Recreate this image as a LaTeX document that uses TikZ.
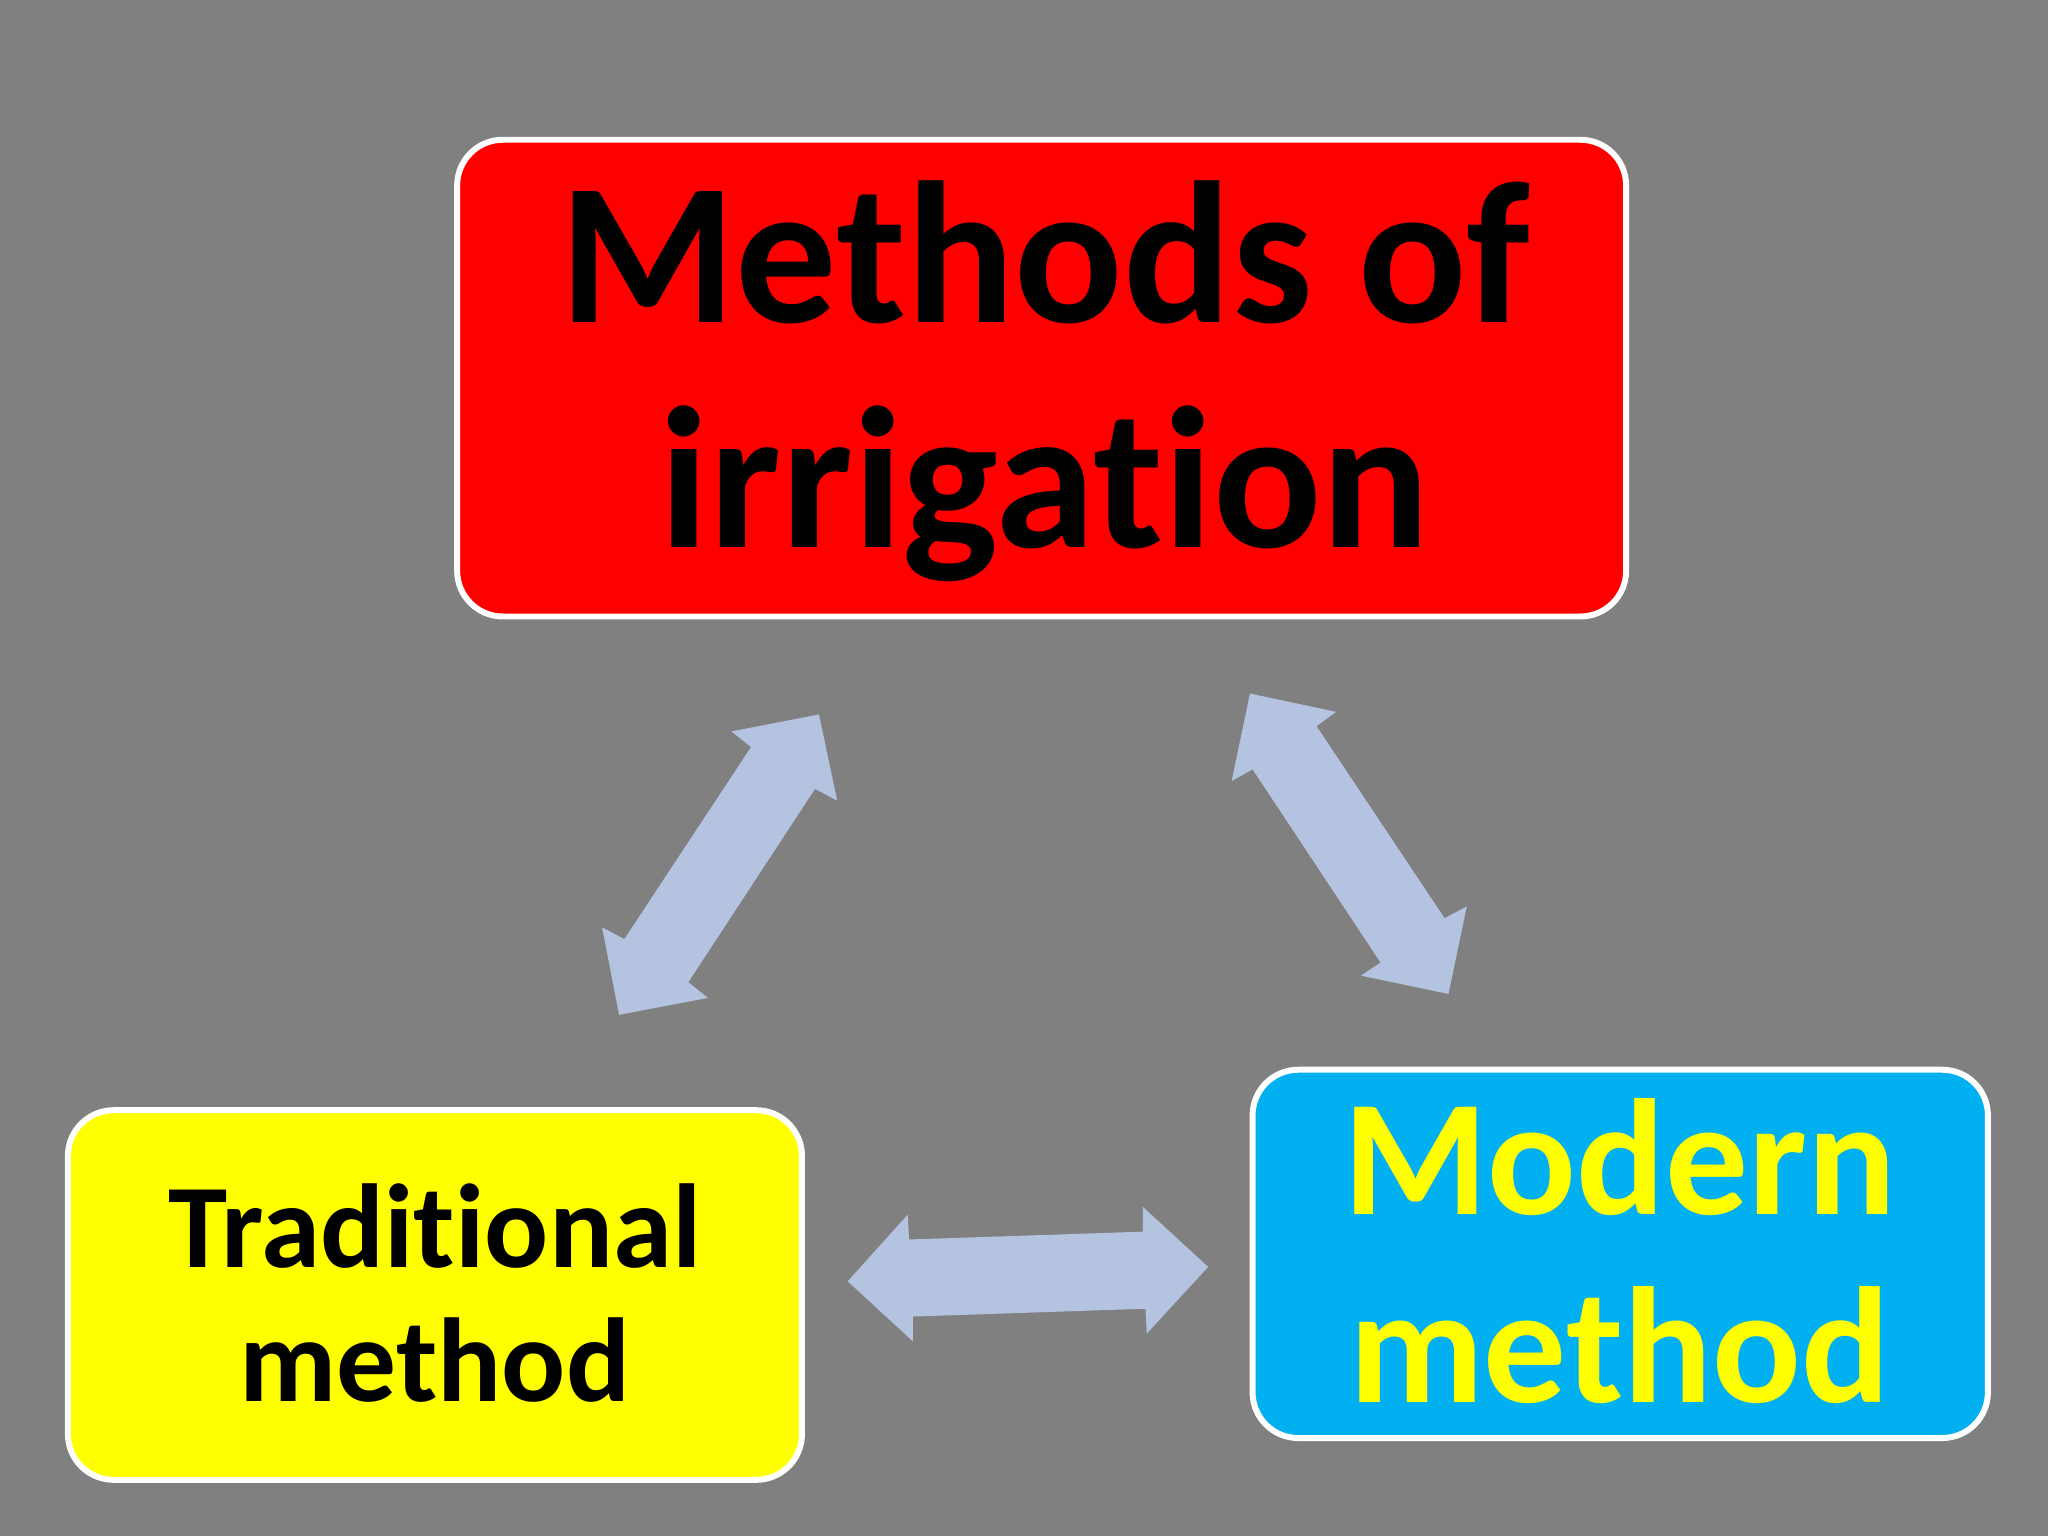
\documentclass[tikz,border=0pt]{standalone}
\usepackage{fontspec}
\setmainfont{Carlito}[Ligatures={NoCommon,NoRequired,NoContextual}]
\begin{document}
\begin{tikzpicture}[x=0.01cm,y=-0.01cm,
  box/.style={draw=white,line width=1.3pt,rounded corners=0.35cm},
  arr/.style={fill=arrowblue,draw=none}]
\definecolor{bg}{HTML}{808080}
\definecolor{arrowblue}{HTML}{B4C3DF}
\definecolor{cyanbox}{HTML}{00B0F0}
\definecolor{yel}{HTML}{FFFF00}
\fill[bg] (0,0) rectangle (1568,1176);
\useasboundingbox (0,0) rectangle (1568,1176);
\draw[box,fill=red] (350,107) rectangle (1245,472);
\draw[box,fill=yel] (52,850) rectangle (614,1133);
\draw[box,fill=cyanbox] (959,819) rectangle (1522,1101);
\node[font=\bfseries\fontsize{44}{49}\selectfont,align=center,text=black] (top) at (800,292) {Methods of\\irrigation};
\node[font=\bfseries\fontsize{26}{29}\selectfont,align=center,text=black] (trad) at (333,990) {Traditional\\method};
\node[font=\bfseries\fontsize{36}{41}\selectfont,align=center,text=yel] (mod) at (1240,958) {Modern\\method};
\fill[arr] (627,547) -- (641,613) -- (624,604) -- (527,752) -- (542,764) -- (474,777) -- (461,710) -- (478,719) -- (575,572) -- (560,560) -- cycle;
\fill[arr] (957,531) -- (1023,545) -- (1008,556) -- (1106,703) -- (1123,694) -- (1109,761) -- (1042,747) -- (1057,737) -- (959,589) -- (943,598) -- cycle;
\fill[arr] (649,981) -- (695,930) -- (696,949) -- (875,943) -- (875,924) -- (925,970) -- (878,1021) -- (877,1002) -- (699,1008) -- (699,1027) -- cycle;
\end{tikzpicture}
\end{document}
